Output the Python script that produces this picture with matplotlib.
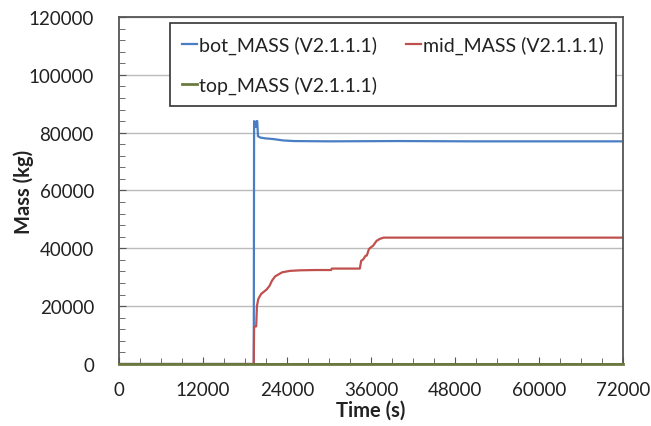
import matplotlib
matplotlib.use("Agg")
import matplotlib.pyplot as plt
from matplotlib.ticker import MultipleLocator

plt.rcParams['font.family'] = ['Lato', 'DejaVu Sans']

# Data (time in s, mass in kg)
bot_t = [0, 19250, 19300, 19450, 19550, 19650, 19750, 19850, 20200, 21000, 22000, 23500, 25000, 30000, 40000, 50000, 60000, 72000]
bot_m = [0, 0, 84000, 82500, 82000, 84000, 84000, 78800, 78300, 78000, 77800, 77300, 77100, 77000, 77100, 77000, 77000, 77000]

mid_t = [0, 19250, 19300, 19500, 19600, 19700, 19900, 20300, 20700, 21100, 21500, 21850, 22300, 22800, 23300, 24400, 25900, 28000, 30300, 30400, 34400, 34600, 34900, 35200, 35400, 35700, 35900, 36300, 36800, 37300, 37800, 40000, 50000, 60000, 72000]
mid_m = [0, 0, 12800, 13000, 13000, 20000, 22500, 24200, 25000, 25800, 27000, 28800, 30300, 31000, 31700, 32200, 32400, 32500, 32500, 33000, 33000, 35700, 36200, 37400, 37500, 39700, 40200, 40900, 42600, 43300, 43700, 43700, 43700, 43700, 43700]

top_t = [0, 72000]
top_m = [0, 0]

labels = ['bot_MASS (V2.1.1.1)', 'mid_MASS (V2.1.1.1)', 'top_MASS (V2.1.1.1)']
colors = ['#4A7EC4', '#C0504D', '#6B7A3E']

fig = plt.figure(figsize=(6.51, 4.27), dpi=100)
ax = fig.add_axes([119/651, 1 - 365/427, (623 - 119)/651, (365 - 18)/427])

l_bot, = ax.plot(bot_t, bot_m, color=colors[0], lw=1.6, label=labels[0])
l_mid, = ax.plot(mid_t, mid_m, color=colors[1], lw=1.6, label=labels[1])
l_top, = ax.plot(top_t, top_m, color=colors[2], lw=2.0, label=labels[2], clip_on=False, zorder=5)

ax.set_xlim(0, 72000)
ax.set_ylim(0, 120000)
ax.xaxis.set_major_locator(MultipleLocator(12000))
ax.xaxis.set_minor_locator(MultipleLocator(3000))
ax.yaxis.set_major_locator(MultipleLocator(20000))
ax.yaxis.set_minor_locator(MultipleLocator(4000))
ax.tick_params(axis='both', which='both', direction='in', colors='#555555', labelcolor='#222222', labelsize=13.5)
ax.tick_params(axis='both', which='major', length=5)
ax.tick_params(axis='both', which='minor', length=4)
ax.tick_params(axis='y', which='major', pad=18)
ax.tick_params(axis='x', which='major', pad=12)
ax.grid(axis='y', which='major', color='#BBBBBB', lw=1.0)
ax.set_axisbelow(True)
for s in ax.spines.values():
    s.set_color('#555555')
    s.set_linewidth(1.3)

ax.set_xlabel('Time (s)', fontsize=14.5, fontweight='bold', color='#222222')
ax.set_ylabel('Mass (kg)', fontsize=14.5, fontweight='bold', color='#222222')
ax.xaxis.set_label_coords(0.5, (365 - 401) / 347)
ax.yaxis.set_label_coords((34 - 119) / 504, 0.5)

leg = ax.legend([l_bot, l_top, l_mid], [labels[0], labels[2], labels[1]], ncol=2,
                loc='upper right', bbox_to_anchor=(616/651, 1 - 24/427), bbox_transform=fig.transFigure,
                fontsize=14, handlelength=0.75, handletextpad=0.1, columnspacing=1.5,
                borderpad=0.65, labelspacing=1.1, borderaxespad=0, fancybox=False, framealpha=1,
                edgecolor='#333333')
leg.get_frame().set_linewidth(1.2)
for t in leg.get_texts():
    t.set_color('#222222')

fig.savefig('out.png', dpi=100)
